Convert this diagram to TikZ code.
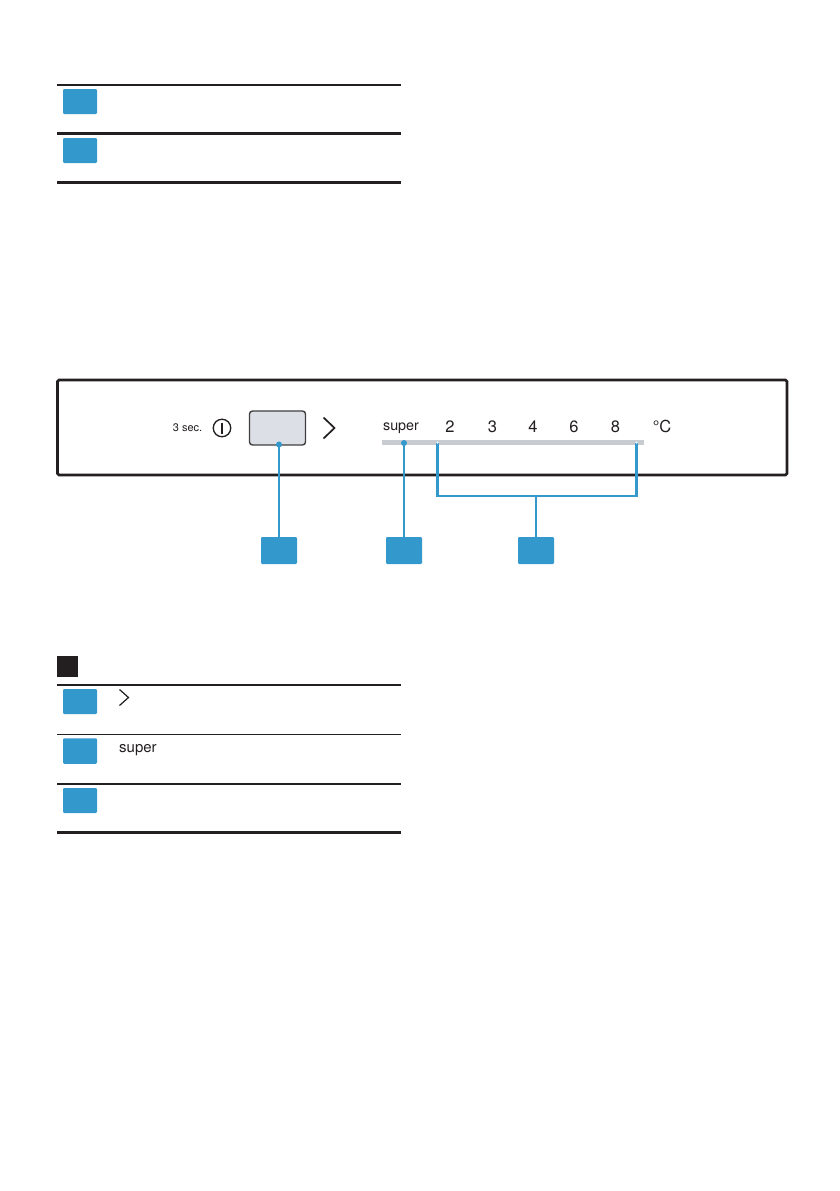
\documentclass[tikz,border=0pt]{standalone}
\usepackage{fontspec}
\setmainfont{TeX Gyre Heros}
\definecolor{cblue}{HTML}{3399CC}
\definecolor{cblack}{HTML}{231F20}
\definecolor{cbtn}{HTML}{DCDFE5}
\definecolor{cbar}{HTML}{C8CBD0}
\begin{document}
\begin{tikzpicture}[x=1pt,y=-1pt,
  bluebox/.style={fill=cblue,draw=none,rounded corners=1.2pt},
  rulethick/.style={draw=cblack,line width=2.3pt},
  rulethin/.style={draw=cblack,line width=1.2pt},
  callout/.style={draw=cblue,line width=2.6pt},
  lbl/.style={inner sep=0pt,text=cblack}]
\useasboundingbox (0,0) rectangle (839,1191);
\fill[white] (0,0) rectangle (839,1191);

% ---- table 1
\draw[rulethick] (57,85) -- (401,85);
\draw[rulethick] (57,133.5) -- (401,133.5);
\draw[rulethick] (57,182.5) -- (401,182.5);
\node[bluebox,minimum width=34pt,minimum height=25pt,inner sep=0pt] (t1a) at (80,101.5) {};
\node[bluebox,minimum width=34pt,minimum height=25pt,inner sep=0pt] (t1b) at (80,150.5) {};

% ---- panel
\draw[draw=cblack,line width=2.8pt,rounded corners=1.5pt] (57.5,380) rectangle (787,475);
\node[lbl,font=\fontsize{11}{12}\selectfont,anchor=base east] (sec) at (202.5,431.5) {3 sec.};
\node[draw=cblack,circle,line width=1.3pt,minimum size=17.5pt,inner sep=0pt] (pw) at (222,428) {};
\draw[cblack,line width=1.5pt] (222,422.5) -- (222,433.5);
\node[draw=black!75,fill=cbtn,rounded corners=3pt,line width=1.4pt,minimum width=56pt,minimum height=34pt,inner sep=0pt] (btn) at (277.5,428) {};
\coordinate (chvA) at (323.5,417.5);
\coordinate (chvB) at (334.5,428);
\coordinate (chvC) at (323.5,438.5);
\draw[cblack,line width=1.7pt] (chvA) -- (chvB) -- (chvC);
\node[lbl,font=\fontsize{14.3}{15}\selectfont,anchor=base] (sup) at (401,430.3) {super};
\fill[cbar] (381.5,440) rectangle (644,444.5);
\coordinate (barL) at (381.5,442);
\foreach \n/\x in {2/450,3/492.5,4/533,6/574,8/615.5}{
  \node[lbl,font=\fontsize{16.5}{17}\selectfont,anchor=base] (n\n) at (\x,432.3) {\n};
}
\node[lbl,font=\fontsize{16.5}{17}\selectfont,anchor=base] (deg) at (662,432.3) {°C};

% callout boxes
\node[bluebox,minimum width=36pt,minimum height=27pt,inner sep=0pt] (c1) at (279,550.5) {};
\node[bluebox,minimum width=36pt,minimum height=27pt,inner sep=0pt] (c2) at (404,550.5) {};
\node[bluebox,minimum width=36pt,minimum height=27pt,inner sep=0pt] (c3) at (536,550.5) {};

% callout lines
\coordinate (d1) at (279,444.5);
\coordinate (d2) at (404,443);
\coordinate (bl) at (437.5,442.5);
\coordinate (br) at (636.5,442.5);
\coordinate (bm) at (536,496);
\draw[callout] (d1) -- (c1.north);
\draw[callout] (d2) -- (c2.north);
\draw[callout] (bl) |- (bm) -| (br);
\draw[callout] (bm) -- (c3.north);
\fill[cblue] (d1) circle (3pt);
\fill[cblue] (d2) circle (3pt);
\fill[white!85!cblue] (bl) circle (1.3pt);
\fill[white!85!cblue] (br) circle (1.3pt);

% ---- table 2
\node[fill=cblack,minimum width=20.5pt,minimum height=20.5pt,inner sep=0pt] (key) at (67.5,666.5) {};
\draw[rulethick] (57,685) -- (401,685);
\draw[rulethin] (57,734.8) -- (401,734.8);
\draw[rulethick] (57,784) -- (401,784);
\draw[rulethick] (57,832.5) -- (401,832.5);
\node[bluebox,minimum width=34pt,minimum height=25pt,inner sep=0pt] (t2a) at (80,701.5) {};
\node[bluebox,minimum width=34pt,minimum height=25.5pt,inner sep=0pt] (t2b) at (80,751) {};
\node[bluebox,minimum width=34pt,minimum height=25pt,inner sep=0pt] (t2c) at (80,800.5) {};
\coordinate (sA) at (119.5,689.5);
\coordinate (sB) at (128.5,697.5);
\coordinate (sC) at (119.5,705.5);
\draw[cblack,line width=1.2pt] (sA) -- (sB) -- (sC);
\node[lbl,font=\fontsize{15}{16}\selectfont,anchor=base west] (sup2) at (119,752) {super};
\end{tikzpicture}
\end{document}
